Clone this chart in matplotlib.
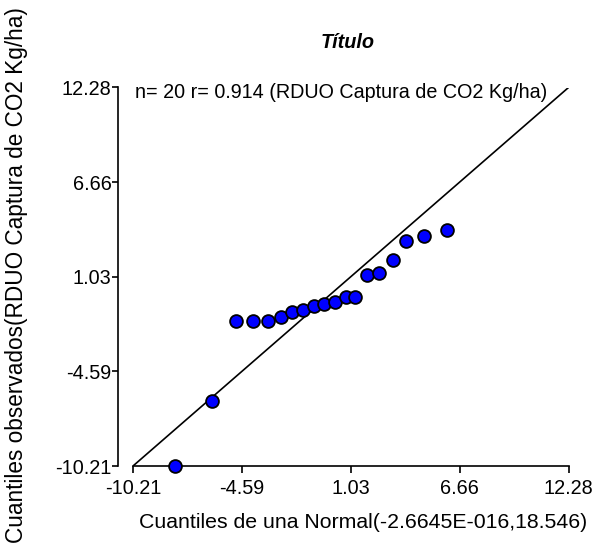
import numpy as np
import matplotlib.pyplot as plt

plt.rcParams['font.family'] = ['Liberation Sans', 'DejaVu Sans']

# normal quantiles (x) against observed quantiles (y)
q_normal = [-8.04, -6.15, -4.89, -4.03, -3.25, -2.57, -2.00, -1.43, -0.85, -0.34,
            0.22, 0.79, 1.27, 1.85, 2.51, 3.20, 3.88, 4.82, 5.99]
q_obs = [-10.21, -6.33, -1.60, -1.60, -1.60, -1.37, -1.06, -0.94, -0.70, -0.58,
         -0.48, -0.15, -0.15, 1.16, 1.26, 2.03, 3.14, 3.46, 3.81]
ticks = [-10.21, -4.59, 1.03, 6.66, 12.28]
n_obs = 20
r_val = 0.914

fig = plt.figure(figsize=(6, 5.52), dpi=100)
ax = fig.add_axes([133/600, 1-466/552, 435.5/600, 378.5/552])

lo, hi = ticks[0], ticks[-1]
ax.plot([lo, hi], [lo, hi], color='black', linewidth=1.2, zorder=2)
ax.scatter(q_normal, q_obs, s=85, color='#0000ff', edgecolor='black',
           linewidth=1.3, zorder=3, clip_on=False)

ax.set_xlim(lo, hi)
ax.set_ylim(lo, hi)
ax.set_xticks(ticks)
ax.set_yticks(ticks)
ax.set_xticklabels([f"{t:.2f}" for t in ticks])
ax.set_yticklabels([f"{t:.2f}" for t in ticks])
ax.tick_params(labelsize=14.3, width=1.2, colors='black')
ax.tick_params(axis='x', length=5, pad=4)
ax.tick_params(axis='y', length=4, pad=0.5)

for s in ['top', 'right']:
    ax.spines[s].set_visible(False)
ax.spines['left'].set_position(('outward', 11))
ax.spines['left'].set_linewidth(1.2)
ax.spines['bottom'].set_linewidth(1.2)

fig.text(363/600, 1-522/552, "Cuantiles de una Normal(-2.6645E-016,18.546)",
         fontsize=15.3, ha='center', va='center')
fig.text(17/600, 1-275/552, "Cuantiles observados(RDUO Captura de CO2 Kg/ha)",
         rotation=90, fontsize=16.3, ha='center', va='center')

fig.text(135/600, 1-92.5/552, f"n= {n_obs} r= {r_val} (RDUO Captura de CO2 Kg/ha)",
         fontsize=14.2, va='center', ha='left')
fig.text(348/600, 1-42/552, "Título", fontsize=14.3, fontweight='bold',
         fontstyle='italic', ha='center', va='center')

fig.savefig("out.png", dpi=100)
